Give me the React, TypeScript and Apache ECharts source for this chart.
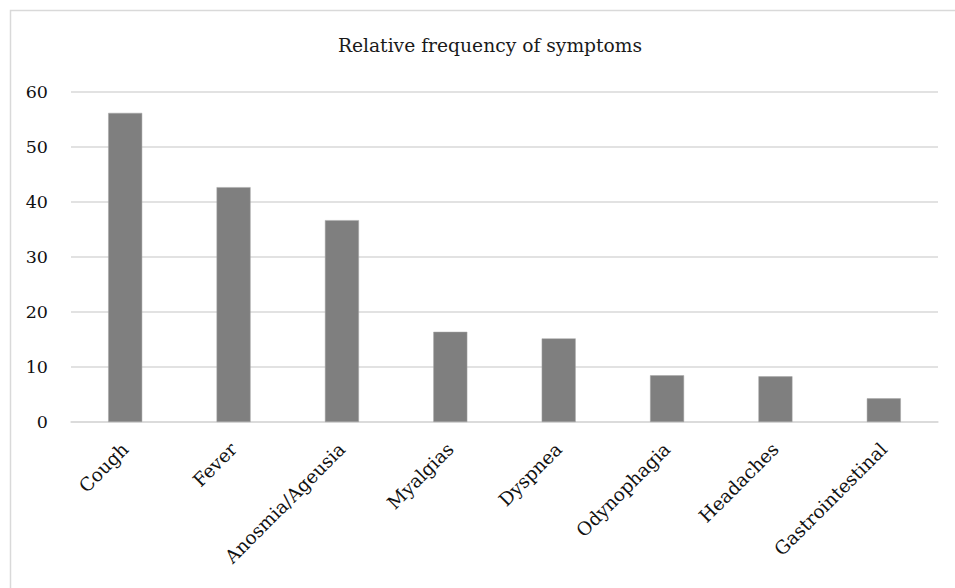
import React, { useEffect, useRef } from "react";
import * as echarts from "echarts";

const titleText = "Relative frequency of symptoms";
const categories = [
  "Cough",
  "Fever",
  "Anosmia/Ageusia",
  "Myalgias",
  "Dyspnea",
  "Odynophagia",
  "Headaches",
  "Gastrointestinal",
];
const values = [56.2, 42.7, 36.7, 16.4, 15.2, 8.5, 8.3, 4.3];
const yMin = 0;
const yMax = 60;
const yInterval = 10;

const FONT = "'DejaVu Serif', 'Liberation Serif', serif";

export default function App() {
  const ref = useRef<HTMLDivElement>(null);
  useEffect(() => {
    if (!ref.current) return;
    const chart = echarts.init(ref.current, undefined, { renderer: "svg" });
    chart.setOption({
      animation: false,
      backgroundColor: "#ffffff",
      title: {
        text: titleText,
        left: 485,
        textAlign: "center",
        top: 31,
        textStyle: {
          fontFamily: FONT,
          fontSize: 18.7,
          fontWeight: "normal",
          color: "#1a1a1a",
        },
      },
      graphic: [
        {
          type: "rect",
          shape: { x: 10.5, y: 10.5, width: 1200, height: 1200 },
          style: { fill: "none", stroke: "#d9d9d9", lineWidth: 1.5 },
          silent: true,
        },
      ],
      grid: { left: 71, right: 17, top: 92, bottom: 166, containLabel: false },
      xAxis: {
        type: "category",
        data: categories,
        axisLine: { show: true, lineStyle: { color: "#d9d9d9", width: 1.5 } },
        axisTick: { show: false },
        axisLabel: {
          interval: 0,
          rotate: 45,
          margin: 24,
          fontFamily: FONT,
          fontSize: 18.5,
          color: "#111",
        },
      },
      yAxis: {
        type: "value",
        min: yMin,
        max: yMax,
        interval: yInterval,
        axisLine: { show: false },
        axisTick: { show: false },
        splitLine: { lineStyle: { color: "#d9d9d9", width: 1.5 } },
        axisLabel: {
          margin: 23,
          fontFamily: FONT,
          fontSize: 17.5,
          color: "#111",
        },
      },
      series: [
        {
          type: "bar",
          data: values,
          barWidth: 34,
          itemStyle: { color: "#7f7f7f", borderColor: "#a6a6a6", borderWidth: 0.5 },
        },
      ],
    });
    return () => chart.dispose();
  }, []);
  return (
    <div
      ref={ref}
      style={{ position: "absolute", left: 0, top: 0, width: 955, height: 588 }}
    />
  );
}
